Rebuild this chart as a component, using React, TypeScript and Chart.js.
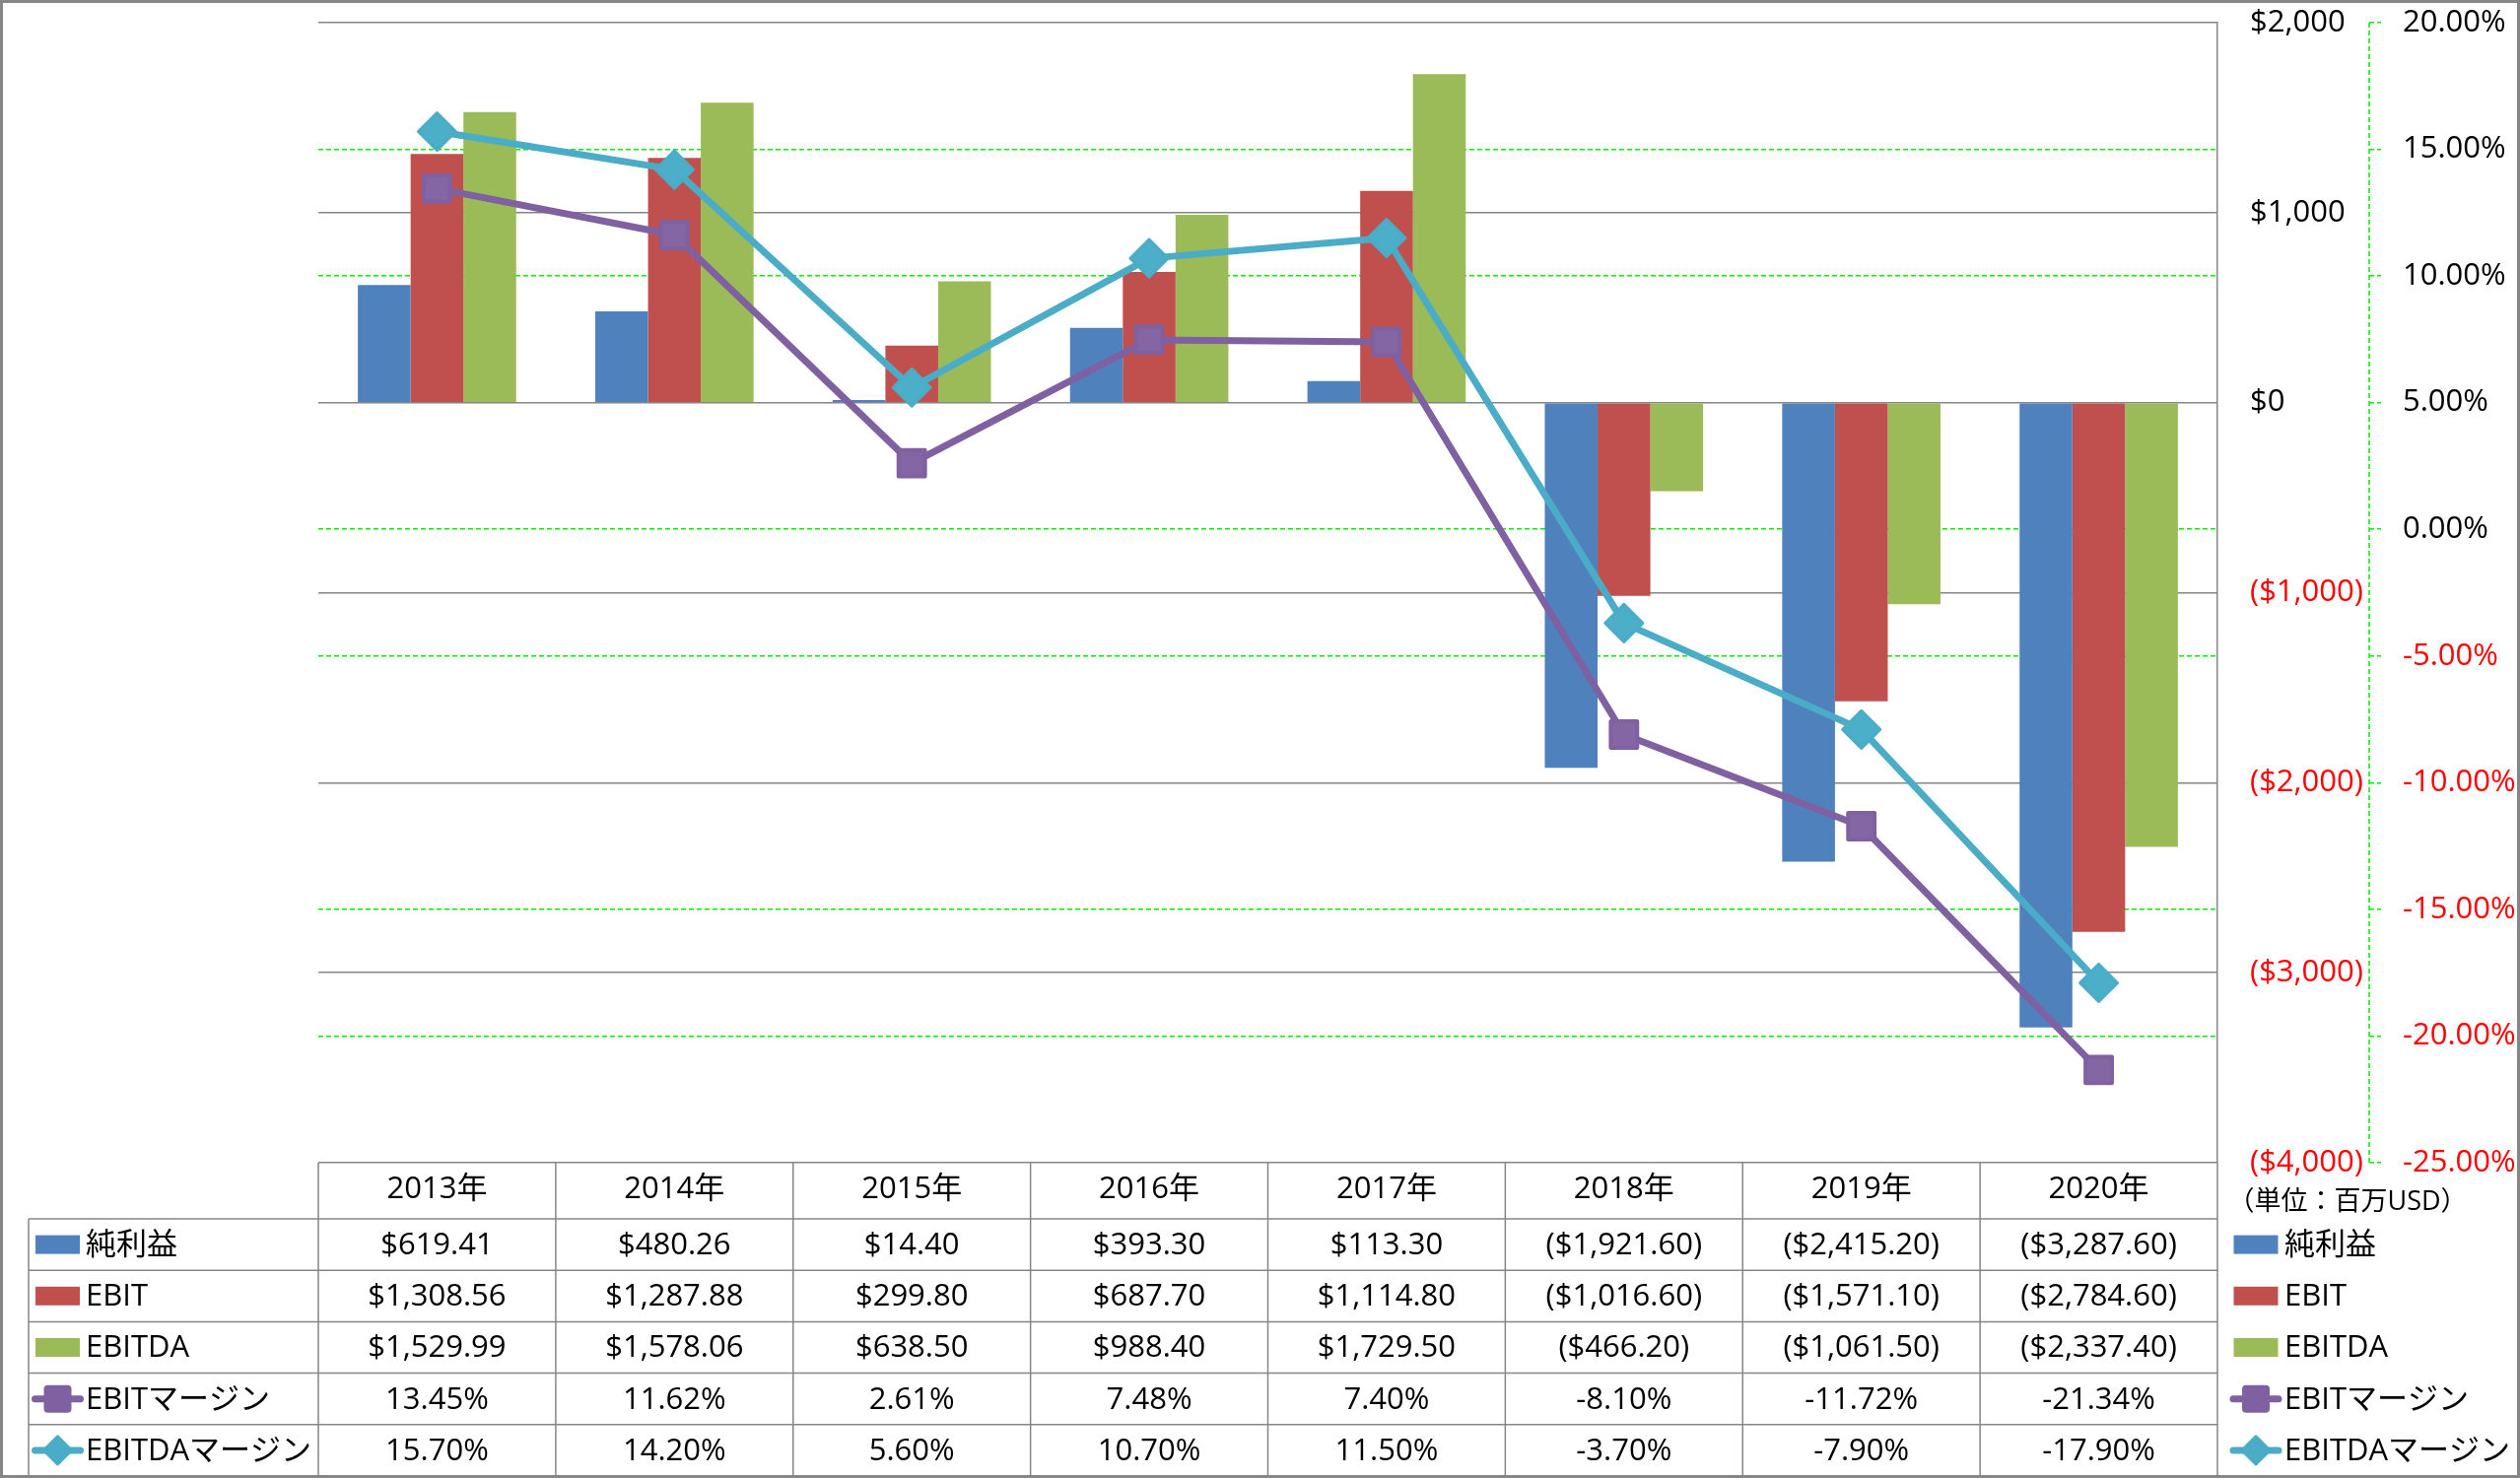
import React, { useEffect, useRef } from 'react';
import { Chart, registerables } from 'chart.js';

Chart.register(...registerables);

// ---------- data ----------
const categories = ['2013年', '2014年', '2015年', '2016年', '2017年', '2018年', '2019年', '2020年'];
const netIncome = [619.41, 480.26, 14.4, 393.3, 113.3, -1921.6, -2415.2, -3287.6];
const ebit = [1308.56, 1287.88, 299.8, 687.7, 1114.8, -1016.6, -1571.1, -2784.6];
const ebitda = [1529.99, 1578.06, 638.5, 988.4, 1729.5, -466.2, -1061.5, -2337.4];
const ebitMargin = [13.45, 11.62, 2.61, 7.48, 7.4, -8.1, -11.72, -21.34];
const ebitdaMargin = [15.7, 14.2, 5.6, 10.7, 11.5, -3.7, -7.9, -17.9];
const seriesNames = ['純利益', 'EBIT', 'EBITDA', 'EBITマージン', 'EBITDAマージン'];
const unitLabel = '（単位：百万USD）';
const moneyMin = -4000;
const moneyMax = 2000;
const moneyStep = 1000;
const pctMin = -25;
const pctMax = 20;
const pctStep = 5;

// ---------- styles ----------
const FONT = '"Open Sans", "Noto Sans CJK JP", sans-serif';
const BLUE = '#4F81BD';
const RED = '#C0504D';
const GREEN = '#9BBB59';
const PURPLE = '#7F60A0';
const CYAN = '#4AACC6';
const GRAY = '#868686';
const NEG = '#FF0000';
const DASH_GREEN = '#00EE00';

const fmtMoneyAxis = (v: number) => {
  const s = '$' + Math.abs(v).toLocaleString('en-US');
  return v < 0 ? `(${s})` : s;
};
const fmtMoneyCell = (v: number) => {
  const s = '$' + Math.abs(v).toLocaleString('en-US', { minimumFractionDigits: 2, maximumFractionDigits: 2 });
  return v < 0 ? `(${s})` : s;
};
const fmtPct = (v: number) => `${v.toFixed(2)}%`;

type KeyKind = 'bar' | 'square' | 'diamond';

function drawKey(ctx: CanvasRenderingContext2D, kind: KeyKind, cx: number, cy: number, color: string) {
  ctx.save();
  if (kind === 'bar') {
    ctx.fillStyle = color;
    ctx.fillRect(cx - 22.5, cy - 9.5, 45, 19);
  } else {
    ctx.strokeStyle = color;
    ctx.lineWidth = 7;
    ctx.lineCap = 'round';
    ctx.beginPath();
    ctx.moveTo(cx - 23, cy);
    ctx.lineTo(cx + 23, cy);
    ctx.stroke();
    ctx.fillStyle = color;
    if (kind === 'square') {
      ctx.beginPath();
      (ctx as any).roundRect(cx - 14, cy - 14, 28, 28, 4);
      ctx.fill();
    } else {
      ctx.beginPath();
      ctx.moveTo(cx, cy - 14);
      ctx.lineTo(cx + 14, cy);
      ctx.lineTo(cx, cy + 14);
      ctx.lineTo(cx - 14, cy);
      ctx.closePath();
      ctx.lineJoin = 'round';
      ctx.lineWidth = 3;
      ctx.fill();
      ctx.stroke();
    }
  }
  ctx.restore();
}

export default function App() {
  const ref = useRef<HTMLCanvasElement | null>(null);

  useEffect(() => {
    document.body.style.margin = '0';
    const canvas = ref.current;
    if (!canvas) return;

    const rows = [
      { name: seriesNames[0], values: netIncome, kind: 'bar' as KeyKind, color: BLUE, fmt: fmtMoneyCell },
      { name: seriesNames[1], values: ebit, kind: 'bar' as KeyKind, color: RED, fmt: fmtMoneyCell },
      { name: seriesNames[2], values: ebitda, kind: 'bar' as KeyKind, color: GREEN, fmt: fmtMoneyCell },
      { name: seriesNames[3], values: ebitMargin, kind: 'square' as KeyKind, color: PURPLE, fmt: fmtPct },
      { name: seriesNames[4], values: ebitdaMargin, kind: 'diamond' as KeyKind, color: CYAN, fmt: fmtPct },
    ];

    const roundJoinPlugin = {
      id: 'roundJoin',
      beforeDatasetsDraw(chart: any) {
        chart.ctx.save();
        chart.ctx.lineJoin = 'round';
      },
      afterDatasetsDraw(chart: any) {
        chart.ctx.restore();
      },
    };

    const tablePlugin = {
      id: 'dataTable',
      afterDraw(chart: any) {
        const { ctx, chartArea, scales } = chart;
        const x = scales.x;
        const y1 = scales.y1;
        const n = categories.length;
        const colW = (x.right - x.left) / n;
        const headTop = chartArea.bottom;
        const headBottom = x.bottom;
        const tableBottom = chart.height - 2;
        const rowH = (tableBottom - headBottom) / rows.length;
        const labelLeft = 29;

        const line = (x1: number, yA: number, x2: number, yB: number) => {
          ctx.beginPath();
          ctx.moveTo(x1, yA);
          ctx.lineTo(x2, yB);
          ctx.stroke();
        };

        ctx.save();
        ctx.strokeStyle = DASH_GREEN;
        ctx.lineWidth = 1.5;
        ctx.setLineDash([5, 3]);
        line(y1.left, y1.top, y1.left, y1.bottom);
        ctx.setLineDash([]);

        ctx.strokeStyle = GRAY;
        ctx.lineWidth = 1.5;
        for (let r = 0; r < rows.length; r++) {
          const yy = headBottom + r * rowH;
          line(labelLeft, yy, x.right, yy);
        }
        line(labelLeft, headBottom, labelLeft, tableBottom);
        for (let i = 0; i <= n; i++) {
          const xx = x.left + i * colW;
          line(xx, headTop, xx, tableBottom);
        }

        ctx.fillStyle = '#000';
        ctx.textBaseline = 'middle';
        ctx.font = `31px ${FONT}`;
        rows.forEach((row, r) => {
          const cy = headBottom + (r + 0.5) * rowH;
          drawKey(ctx, row.kind, 58.5, cy, row.color);
          ctx.fillStyle = '#000';
          ctx.textAlign = 'left';
          ctx.fillText(row.name, 87, cy + 1);
          ctx.textAlign = 'center';
          row.values.forEach((v, i) => {
            const cx = x.getPixelForValue(i);
            ctx.fillText(row.fmt(v), cx, cy + 1);
          });
          drawKey(ctx, row.kind, 2289, cy, row.color);
          ctx.fillStyle = '#000';
          ctx.textAlign = 'left';
          ctx.fillText(row.name, 2318, cy + 1);
        });

        ctx.font = `27px ${FONT}`;
        ctx.textAlign = 'center';
        ctx.fillText(unitLabel, 2382, (headTop + headBottom) / 2 + 12);

        ctx.strokeStyle = GRAY;
        ctx.lineWidth = 3;
        ctx.strokeRect(1.5, 1.5, chart.width - 3, chart.height - 3);
        ctx.restore();
      },
    };

    const tickFont = { family: FONT, size: 31, lineHeight: 1.2 };

    // hide green % grid lines where a grey $ grid line already sits
    const pctGridColor = (c: any) => {
      const ch = c.chart;
      const ys = ch.scales.y;
      if (!c.tick || !ys) return DASH_GREEN;
      const p = c.scale.getPixelForValue(c.tick.value);
      const hit = ys.ticks.some((t: any) => Math.abs(ys.getPixelForValue(t.value) - p) < 1);
      return hit ? 'rgba(0,0,0,0)' : DASH_GREEN;
    };

    const chart = new Chart(canvas, {
      type: 'bar',
      data: {
        labels: categories,
        datasets: [
          {
            type: 'line',
            label: seriesNames[4],
            data: ebitdaMargin,
            yAxisID: 'y1',
            borderColor: CYAN,
            backgroundColor: CYAN,
            borderWidth: 7,
            borderJoinStyle: 'round',
            borderCapStyle: 'round',
            pointStyle: 'rectRot',
            pointRadius: 19,
            pointBorderWidth: 3,
            pointBackgroundColor: '#4BAFC9',
            pointBorderColor: CYAN,
            fill: false,
            tension: 0,
            order: 0,
          },
          {
            type: 'line',
            label: seriesNames[3],
            data: ebitMargin,
            yAxisID: 'y1',
            borderColor: PURPLE,
            backgroundColor: PURPLE,
            borderWidth: 7,
            borderJoinStyle: 'round',
            borderCapStyle: 'round',
            pointStyle: 'rect',
            pointRadius: 19,
            pointBorderWidth: 4,
            pointBackgroundColor: '#8466A5',
            pointBorderColor: PURPLE,
            fill: false,
            tension: 0,
            order: 1,
          },
          {
            type: 'bar',
            label: seriesNames[0],
            data: netIncome,
            yAxisID: 'y',
            backgroundColor: BLUE,
            borderWidth: 0,
            categoryPercentage: 0.667,
            barPercentage: 1,
            order: 2,
          },
          {
            type: 'bar',
            label: seriesNames[1],
            data: ebit,
            yAxisID: 'y',
            backgroundColor: RED,
            borderWidth: 0,
            categoryPercentage: 0.667,
            barPercentage: 1,
            order: 2,
          },
          {
            type: 'bar',
            label: seriesNames[2],
            data: ebitda,
            yAxisID: 'y',
            backgroundColor: GREEN,
            borderWidth: 0,
            categoryPercentage: 0.667,
            barPercentage: 1,
            order: 2,
          },
        ],
      } as any,
      options: {
        responsive: false,
        animation: false,
        devicePixelRatio: 1,
        layout: { padding: { left: 323, top: 21, right: 3, bottom: 263 } },
        plugins: {
          legend: { display: false },
          tooltip: { enabled: false },
        },
        scales: {
          x: {
            position: 'bottom',
            grid: { display: false, drawTicks: false },
            border: { display: false },
            ticks: {
              color: '#000',
              font: tickFont,
              padding: 9,
              maxRotation: 0,
              autoSkip: false,
            },
            afterFit: (s: any) => {
              s.height = 57;
              s.paddingLeft = 0;
              s.paddingRight = 0;
            },
          },
          y: {
            position: 'right',
            min: moneyMin,
            max: moneyMax,
            ticks: {
              stepSize: moneyStep,
              padding: 33,
              font: tickFont,
              color: (c: any) => (c.tick && c.tick.value < 0 ? NEG : '#000'),
              callback: (v: any) => fmtMoneyAxis(Number(v)),
            },
            grid: { color: GRAY, lineWidth: 1.5, drawTicks: false, z: -1 },
            border: { display: true, color: GRAY, width: 1.5 },
            afterFit: (s: any) => {
              s.width = 154;
              s.paddingTop = 0;
              s.paddingBottom = 0;
            },
          },
          y1: {
            position: 'right',
            min: pctMin,
            max: pctMax,
            ticks: {
              stepSize: pctStep,
              padding: 22,
              font: tickFont,
              color: (c: any) => (c.tick && c.tick.value < 0 ? NEG : '#000'),
              callback: (v: any) => fmtPct(Number(v)),
            },
            grid: {
              color: pctGridColor,
              lineWidth: 1.5,
              drawTicks: true,
              tickLength: 12,
              tickColor: DASH_GREEN,
              tickWidth: 1.5,
              tickBorderDash: [5, 3],
              z: -2,
            },
            border: { display: false, dash: [5, 3] },
            afterFit: (s: any) => {
              s.width = 150;
              s.paddingTop = 0;
              s.paddingBottom = 0;
            },
          },
        },
      } as any,
      plugins: [roundJoinPlugin, tablePlugin],
    });

    return () => chart.destroy();
  }, []);

  return (
    <div style={{ width: 2557, height: 1500, background: '#fff' }}>
      <canvas ref={ref} width={2557} height={1500} style={{ display: 'block', width: 2557, height: 1500 }} />
    </div>
  );
}
